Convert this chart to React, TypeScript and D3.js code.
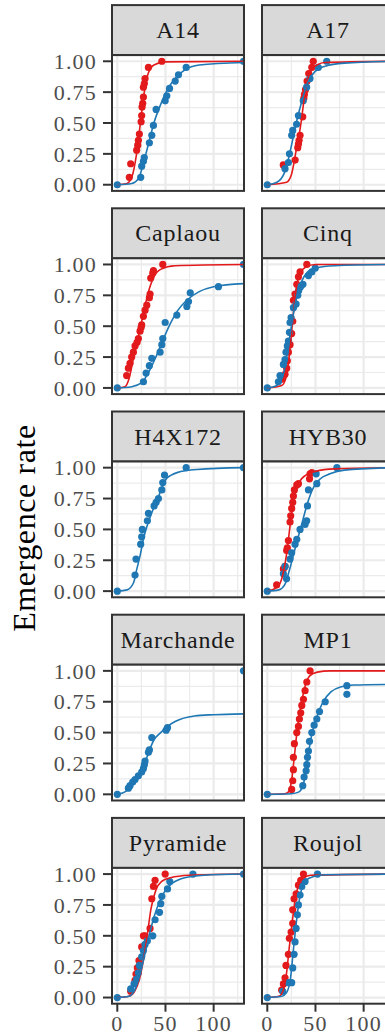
import React from 'react';
import * as d3 from 'd3';

type Pt = [number, number];

// facet labels, in reading order (2 columns)
const panels: string[] = ["A14", "A17", "Caplaou", "Cinq", "H4X172", "HYB30", "Marchande", "MP1", "Pyramide", "Roujol"];

const xTicks: number[] = [0, 50, 100];
const xMinor: number[] = [25, 75, 125];
const yTicks: number[] = [0, 0.25, 0.5, 0.75, 1];
const yMinor: number[] = [0.125, 0.375, 0.625, 0.875];

// observed emergence, red group
const redPoints: Pt[][] = [
  [[12.5, 0.06], [13.9, 0.17], [20.1, 0.28], [21.2, 0.32], [21.9, 0.36], [22.9, 0.41], [24.7, 0.51], [25.3, 0.56], [25.7, 0.63], [26.4, 0.66], [27.1, 0.71], [27.1, 0.79], [28.1, 0.82], [28.8, 0.86], [32.3, 0.95], [46.2, 1.0]],
  [[16.6, 0.16], [28.9, 0.2], [31.6, 0.3], [32.3, 0.33], [33, 0.36], [34, 0.4], [36.8, 0.55], [37.9, 0.7], [38.5, 0.73], [39.6, 0.77], [41.3, 0.84], [43, 0.9], [46.2, 0.95], [47.7, 1.0]],
  [[9.7, 0.1], [11.5, 0.16], [13.2, 0.2], [14.9, 0.25], [16.7, 0.29], [18.4, 0.34], [20.5, 0.37], [21.9, 0.4], [23.6, 0.46], [24.7, 0.49], [25.3, 0.51], [27.1, 0.58], [28.8, 0.63], [30.6, 0.67], [33.3, 0.73], [34, 0.76], [34.7, 0.89], [36.8, 0.93], [37.5, 0.95], [47.2, 1.0]],
  [[14.9, 0.07], [18.4, 0.11], [20.1, 0.16], [20.8, 0.22], [21.9, 0.29], [23.6, 0.35], [25.3, 0.44], [26.4, 0.54], [27.1, 0.71], [28.8, 0.76], [30.6, 0.84], [32.3, 0.9], [34, 0.94], [41, 1.0]],
  [],
  [[9.7, 0.05], [16.7, 0.18], [18.4, 0.2], [20.1, 0.33], [20.8, 0.35], [21.9, 0.41], [23.6, 0.56], [24.3, 0.61], [25.3, 0.67], [26.4, 0.72], [27.1, 0.77], [28.1, 0.82], [30.6, 0.86], [32.3, 0.87], [43.8, 0.91], [44.4, 0.95], [46.2, 0.96]],
  [],
  [[25.3, 0.04], [26.4, 0.11], [27.1, 0.2], [27.1, 0.3], [28.1, 0.41], [30.6, 0.5], [32.3, 0.55], [33.3, 0.61], [34.7, 0.66], [35.8, 0.72], [37.5, 0.77], [39.2, 0.84], [41, 0.91], [44.4, 1.0]],
  [[13.9, 0.05], [18.4, 0.14], [19.4, 0.19], [20.8, 0.24], [22.5, 0.3], [25.3, 0.41], [27.1, 0.5], [28.8, 0.5], [34, 0.56], [35.8, 0.8], [37.5, 0.9], [39.2, 0.95], [49.7, 1.0]],
  [[14.9, 0.06], [16.7, 0.11], [18.4, 0.16], [19.4, 0.26], [21.9, 0.35], [22.9, 0.48], [24.7, 0.53], [26.4, 0.6], [26.4, 0.71], [27.8, 0.8], [29.9, 0.84], [32.3, 0.91], [34.7, 0.95], [37.5, 1.0]],
];

// observed emergence, blue group
const bluePoints: Pt[][] = [
  [[0, 0], [24.3, 0.06], [25.3, 0.15], [27.1, 0.19], [28, 0.22], [33.3, 0.34], [35.8, 0.4], [37.5, 0.48], [40.3, 0.61], [49.7, 0.68], [51.4, 0.72], [54.2, 0.78], [60.1, 0.84], [63.5, 0.89], [71.5, 0.95], [131, 1.0]],
  [[0, 0], [18.4, 0.13], [21.9, 0.18], [23, 0.25], [25.3, 0.4], [26.4, 0.44], [30.4, 0.49], [32.3, 0.56], [37.3, 0.68], [40.8, 0.79], [44.3, 0.86], [52.9, 0.95], [61.7, 1.0]],
  [[0, 0], [27.1, 0.05], [29.9, 0.12], [33.3, 0.18], [35.8, 0.24], [44.4, 0.29], [46.2, 0.35], [47.2, 0.4], [49.7, 0.53], [61.8, 0.59], [72.2, 0.66], [73.9, 0.7], [75.7, 0.77], [105, 0.82], [131, 1.0]],
  [[0, 0], [11.5, 0.05], [13.2, 0.1], [16.7, 0.19], [18.4, 0.23], [19.4, 0.29], [20.8, 0.34], [21.9, 0.38], [23, 0.45], [23.6, 0.53], [24.7, 0.57], [27.1, 0.65], [29.9, 0.68], [31.6, 0.75], [32.6, 0.79], [34.5, 0.82], [37, 0.84], [42.7, 0.91], [46.2, 0.94], [49.7, 0.97]],
  [[0, 0], [18.4, 0.13], [19.4, 0.26], [24.3, 0.38], [25.3, 0.44], [26, 0.5], [31.2, 0.57], [32.3, 0.63], [38.2, 0.69], [40.3, 0.72], [42.7, 0.75], [46.2, 0.82], [47.2, 0.88], [49, 0.94], [71.5, 1.0], [131, 1.0]],
  [[0, 0], [16.7, 0.14], [18.4, 0.2], [20, 0.1], [23.6, 0.26], [25.3, 0.31], [28.8, 0.38], [30.6, 0.42], [34, 0.5], [39.2, 0.54], [40.9, 0.57], [41.7, 0.69], [42.7, 0.82], [51.4, 0.87], [50.7, 0.95], [72.2, 1.0]],
  [[0, 0], [11.5, 0.05], [13.2, 0.07], [16, 0.1], [18.4, 0.12], [21.9, 0.15], [25.3, 0.18], [27.1, 0.21], [28.1, 0.24], [28.8, 0.27], [32.3, 0.34], [33.3, 0.36], [35.8, 0.46], [50.7, 0.52], [52.1, 0.54], [131, 1.0]],
  [[0, 0], [36.8, 0.07], [38.2, 0.14], [40.3, 0.19], [41, 0.24], [41.7, 0.3], [42.7, 0.35], [43.8, 0.43], [46.2, 0.5], [48.6, 0.56], [51.4, 0.61], [54.2, 0.67], [60.1, 0.75], [82.6, 0.88], [82.6, 0.81]],
  [[0, 0], [13.9, 0.07], [17.4, 0.11], [20.1, 0.15], [21.9, 0.2], [22.9, 0.26], [25.3, 0.33], [27.1, 0.38], [28.8, 0.43], [31.2, 0.46], [36.8, 0.5], [39.2, 0.63], [43.8, 0.69], [45.1, 0.76], [46.2, 0.82], [52.1, 0.88], [54.5, 0.94], [78.5, 1.0], [131, 1.0]],
  [[0, 0], [16, 0.05], [21.9, 0.12], [25.3, 0.12], [26.4, 0.24], [27.8, 0.35], [28.8, 0.45], [29.9, 0.56], [31.2, 0.67], [32.3, 0.75], [34, 0.83], [35.8, 0.9], [39.2, 0.94], [52.1, 1.0]],
];

// fitted curves (knots)
const redCurves: Pt[][] = [
  [[0, 0], [10, 0.01], [15, 0.06], [20, 0.25], [24, 0.5], [28, 0.75], [32, 0.9], [38, 0.97], [50, 0.995], [131, 1]],
  [[0, 0], [20, 0.02], [25, 0.08], [30, 0.28], [35, 0.5], [38, 0.68], [42, 0.85], [48, 0.95], [60, 0.99], [131, 1]],
  [[0, 0], [8, 0.01], [12, 0.07], [17, 0.25], [22, 0.42], [27, 0.6], [32, 0.77], [38, 0.9], [45, 0.96], [60, 0.99], [131, 1]],
  [[0, 0], [15, 0.02], [20, 0.1], [24, 0.35], [27, 0.6], [30, 0.8], [34, 0.93], [40, 0.98], [50, 1], [131, 1]],
  [],
  [[0, 0], [10, 0.03], [15, 0.1], [20, 0.3], [24, 0.55], [28, 0.76], [33, 0.88], [40, 0.94], [50, 0.97], [70, 0.99], [131, 1]],
  [],
  [[0, 0], [18, 0.005], [22, 0.02], [25, 0.1], [28, 0.3], [31, 0.52], [35, 0.72], [39, 0.87], [44, 0.96], [52, 0.99], [65, 1], [131, 1]],
  [[0, 0], [12, 0.01], [18, 0.05], [23, 0.15], [27, 0.3], [31, 0.5], [35, 0.72], [40, 0.87], [46, 0.94], [55, 0.97], [75, 0.99], [131, 1]],
  [[0, 0], [12, 0.01], [17, 0.07], [20, 0.2], [23, 0.42], [26, 0.62], [29, 0.8], [33, 0.92], [38, 0.97], [45, 0.99], [131, 1]],
];

const blueCurves: Pt[][] = [
  [[0, 0], [15, 0.01], [22, 0.05], [28, 0.2], [33, 0.35], [38, 0.5], [45, 0.65], [52, 0.77], [60, 0.86], [70, 0.93], [85, 0.97], [131, 0.99]],
  [[0, 0], [10, 0.02], [18, 0.1], [24, 0.28], [30, 0.5], [36, 0.68], [42, 0.83], [50, 0.92], [60, 0.96], [80, 0.985], [131, 1]],
  [[0, 0], [15, 0.01], [25, 0.04], [32, 0.12], [40, 0.25], [47, 0.38], [55, 0.52], [63, 0.63], [72, 0.71], [85, 0.78], [100, 0.82], [131, 0.845]],
  [[0, 0], [10, 0.02], [17, 0.12], [22, 0.35], [26, 0.55], [30, 0.72], [35, 0.85], [42, 0.94], [50, 0.97], [70, 0.99], [131, 1]],
  [[0, 0], [10, 0.01], [17, 0.07], [20, 0.17], [24, 0.3], [27, 0.42], [31, 0.53], [36, 0.64], [41, 0.73], [46, 0.83], [50, 0.9], [56, 0.94], [62, 0.96], [83, 0.985], [131, 1]],
  [[0, 0], [12, 0.01], [18, 0.05], [24, 0.2], [30, 0.38], [36, 0.55], [42, 0.72], [48, 0.84], [55, 0.91], [65, 0.95], [80, 0.98], [131, 1]],
  [[0, 0], [8, 0.02], [15, 0.07], [22, 0.14], [28, 0.24], [33, 0.35], [38, 0.44], [45, 0.5], [52, 0.55], [60, 0.59], [80, 0.635], [100, 0.645], [131, 0.652]],
  [[0, 0], [25, 0.005], [33, 0.02], [38, 0.1], [42, 0.3], [46, 0.48], [52, 0.64], [58, 0.75], [66, 0.83], [76, 0.87], [90, 0.885], [131, 0.89]],
  [[0, 0], [12, 0.01], [18, 0.06], [23, 0.17], [28, 0.33], [33, 0.5], [38, 0.65], [44, 0.78], [50, 0.87], [58, 0.93], [70, 0.97], [90, 0.99], [131, 1]],
  [[0, 0], [15, 0.01], [20, 0.04], [24, 0.15], [27, 0.38], [30, 0.6], [33, 0.78], [36, 0.89], [40, 0.95], [48, 0.98], [60, 0.995], [131, 1]],
];

const RED = "#E31A1C";
const BLUE = "#1F78B4";
const FONT = "'Liberation Serif', 'Times New Roman', serif";

const panelW = 132;
const panelH = 135.8;
const stripH = 50;
const colLeft = [112, 262];
const rowTop = (r: number) => 55.1 + r * 203.2;

const x = d3.scaleLinear().domain([-5.5, 131.5]).range([0, panelW]);
const y = d3.scaleLinear().domain([-0.05, 1.05]).range([panelH, 0]);
const line = d3.line<Pt>().x(d => x(d[0])).y(d => y(d[1])).curve(d3.curveMonotoneX);
const fmt = d3.format(".2f");

const Panel = ({ i }: { i: number }) => {
  const col = i % 2;
  const row = Math.floor(i / 2);
  const left = colLeft[col];
  const top = rowTop(row);
  const clipId = `clip-${i}`;
  const isBottom = row === 4;
  return (
    <g>
      {/* strip */}
      <g transform={`translate(${left},${top - stripH})`}>
        <rect width={panelW} height={stripH} fill="#D9D9D9" stroke="#333333" strokeWidth={2} />
        <text x={panelW / 2} y={stripH / 2 + 8} textAnchor="middle" fontFamily={FONT} fontSize={24}
          letterSpacing={0.8} fill="#1A1A1A">{panels[i]}</text>
      </g>
      <g transform={`translate(${left},${top})`}>
        <defs>
          <clipPath id={clipId}><rect width={panelW} height={panelH} /></clipPath>
        </defs>
        <rect width={panelW} height={panelH} fill="white" />
        <g clipPath={`url(#${clipId})`}>
          {xMinor.map(v => <line key={"xm" + v} x1={x(v)} x2={x(v)} y1={0} y2={panelH} stroke="#EBEBEB" strokeWidth={1.2} />)}
          {yMinor.map(v => <line key={"ym" + v} x1={0} x2={panelW} y1={y(v)} y2={y(v)} stroke="#EBEBEB" strokeWidth={1.2} />)}
          {xTicks.map(v => <line key={"xM" + v} x1={x(v)} x2={x(v)} y1={0} y2={panelH} stroke="#EBEBEB" strokeWidth={2.2} />)}
          {yTicks.map(v => <line key={"yM" + v} x1={0} x2={panelW} y1={y(v)} y2={y(v)} stroke="#EBEBEB" strokeWidth={2.2} />)}
          {redPoints[i].map((d, k) => <circle key={"rp" + k} cx={x(d[0])} cy={y(d[1])} r={3.6} fill={RED} />)}
          {bluePoints[i].map((d, k) => <circle key={"bp" + k} cx={x(d[0])} cy={y(d[1])} r={3.6} fill={BLUE} />)}
          {redCurves[i].length > 0 && <path d={line(redCurves[i]) || ""} fill="none" stroke={RED} strokeWidth={1.6} />}
          {blueCurves[i].length > 0 && <path d={line(blueCurves[i]) || ""} fill="none" stroke={BLUE} strokeWidth={1.6} />}
        </g>
        <rect width={panelW} height={panelH} fill="none" stroke="#333333" strokeWidth={2} />
        {col === 0 && yTicks.map(v => (
          <g key={"yt" + v} transform={`translate(0,${y(v)})`}>
            <line x1={-9} x2={0} stroke="#333333" strokeWidth={2} />
            <text x={-15} dy="0.35em" textAnchor="end" fontFamily={FONT} fontSize={22}
              letterSpacing={1.2} fill="#4D4D4D">{fmt(v)}</text>
          </g>
        ))}
        {isBottom && xTicks.map(v => (
          <g key={"xt" + v} transform={`translate(${x(v)},${panelH})`}>
            <line y1={0} y2={8} stroke="#333333" strokeWidth={2} />
            <text y={27} textAnchor="middle" fontFamily={FONT} fontSize={22}
              letterSpacing={1.2} fill="#4D4D4D">{v}</text>
          </g>
        ))}
      </g>
    </g>
  );
};

export default function App() {
  return (
    <svg width={385} height={1035} style={{ position: 'absolute', left: 0, top: 0, background: 'white' }}>
      <rect width={385} height={1035} fill="white" />
      {panels.map((_, i) => <Panel key={i} i={i} />)}
      <text transform="translate(35,528) rotate(-90)" textAnchor="middle" fontFamily={FONT}
        fontSize={32} letterSpacing={0.6} fill="black">Emergence rate</text>
    </svg>
  );
}
